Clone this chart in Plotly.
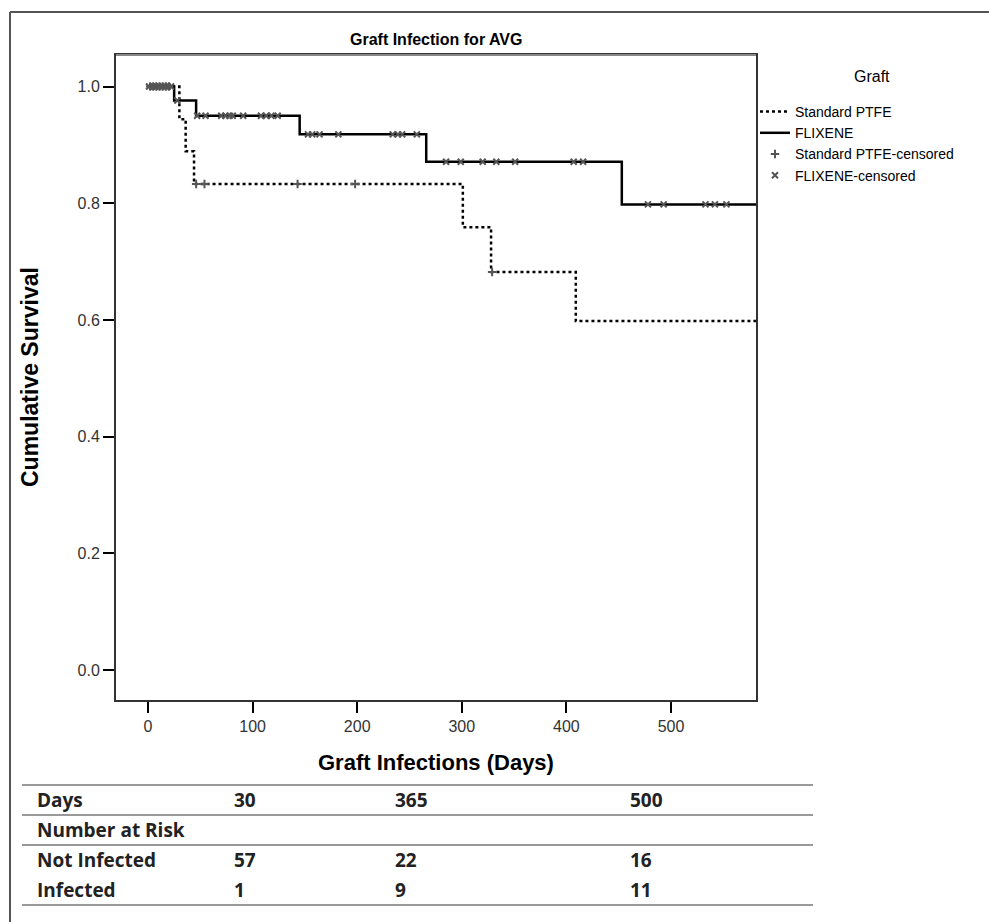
import plotly.graph_objects as go

# ---------------- data ----------------
ptfe_time = [0, 30, 36, 44, 301, 328, 409, 600]
ptfe_surv = [1.0, 0.944, 0.889, 0.833, 0.759, 0.682, 0.598, 0.598]
ptfe_censored = [2, 5, 8, 11, 14, 17, 20, 46, 54, 143, 198, 329]

flix_time = [0, 25, 46, 145, 266, 453, 600]
flix_surv = [1.0, 0.976, 0.950, 0.918, 0.871, 0.798, 0.798]
flix_censored = [1, 4, 7, 10, 13, 16, 19, 22, 28, 47, 55, 70, 74, 78, 81, 91,
                 108, 113, 118, 124, 153, 157, 164, 182, 234, 239, 243, 257,
                 285, 299, 320, 333, 351, 407, 416, 478, 493, 533, 542, 553]

x_ticks = [0, 100, 200, 300, 400, 500]
y_ticks = [0.0, 0.2, 0.4, 0.6, 0.8, 1.0]

table_days = [30, 365, 500]
table_not_infected = [57, 22, 16]
table_infected = [1, 9, 11]
table_labels = ["Days", "Number at Risk", "Not Infected", "Infected"]


def step_value(times, survs, t):
    v = survs[0]
    for ti, si in zip(times, survs):
        if ti <= t:
            v = si
    return v


ptfe_cens_y = [step_value(ptfe_time, ptfe_surv, t) for t in ptfe_censored]
flix_cens_y = [step_value(flix_time, flix_surv, t) for t in flix_censored]

# ---------------- geometry helpers ----------------
W, H = 989, 922
L, R, T, B = 116, 756, 55, 700


def px(x):
    return (x - L) / (R - L)


def py(y):
    return (B - y) / (B - T)


FONT = "Arial, Liberation Sans, sans-serif"
TFONT = "Open Sans, Lato, sans-serif"

fig = go.Figure()

fig.add_trace(go.Scatter(
    x=ptfe_time, y=ptfe_surv, mode="lines", line_shape="hv",
    line=dict(color="black", width=2.5, dash="3px,3px"),
    name="Standard PTFE", hoverinfo="skip"))
fig.add_trace(go.Scatter(
    x=flix_time, y=flix_surv, mode="lines", line_shape="hv",
    line=dict(color="black", width=2.5),
    name="FLIXENE", hoverinfo="skip"))
fig.add_trace(go.Scatter(
    x=ptfe_censored, y=ptfe_cens_y, mode="markers",
    marker=dict(symbol="cross-thin", size=6, line=dict(color="#555", width=2)),
    name="Standard PTFE-censored"))
fig.add_trace(go.Scatter(
    x=flix_censored, y=flix_cens_y, mode="markers",
    marker=dict(symbol="x-thin", size=6, line=dict(color="#555", width=2)),
    name="FLIXENE-censored"))

fig.update_xaxes(
    range=[-30.6, 581.3], tickvals=x_ticks, ticks="outside", ticklen=11,
    tickwidth=1.5, tickcolor="black", showgrid=False, zeroline=False,
    showline=True, linecolor="#333", linewidth=2, mirror=True,
    tickfont=dict(family=FONT, size=16, color="#333"))
fig.update_yaxes(
    range=[-0.0514, 1.054], tickvals=y_ticks, tickformat=".1f",
    ticks="outside", ticklen=11, tickwidth=1.5, tickcolor="black",
    showgrid=False, zeroline=False, showline=True, linecolor="#333",
    linewidth=2, mirror=True,
    tickfont=dict(family=FONT, size=16, color="#333"))

annotations = [
    dict(text="<b>Graft Infection for AVG</b>", x=px(436), y=py(39),
         xanchor="center", yanchor="middle",
         xref="paper", yref="paper", showarrow=False,
         font=dict(family=FONT, size=16, color="black")),
    dict(text="<b>Cumulative Survival</b>", x=px(30), y=py(377), textangle=-90,
         xanchor="center", yanchor="middle",
         xref="paper", yref="paper", showarrow=False,
         font=dict(family=FONT, size=23, color="black")),
    dict(text="<b>Graft Infections (Days)</b>", x=px(436), y=py(762),
         xanchor="center", yanchor="middle",
         xref="paper", yref="paper", showarrow=False,
         font=dict(family=FONT, size=22, color="black")),
    dict(text="Graft", x=px(872), y=py(77),
         xanchor="center", yanchor="middle",
         xref="paper", yref="paper", showarrow=False,
         font=dict(family=FONT, size=16, color="black")),
]

# table
row_y = [800, 830, 860, 890]
col_x = [232, 393, 628]
for lab, ry in zip(table_labels, row_y):
    annotations.append(dict(text="<b>%s</b>" % lab, x=px(35), y=py(ry),
                            xref="paper", yref="paper", showarrow=False,
                            xanchor="left", yanchor="middle",
                            font=dict(family=TFONT, size=19, color="#222")))
for vals, ry in [(table_days, row_y[0]), (table_not_infected, row_y[2]),
                 (table_infected, row_y[3])]:
    for v, cx in zip(vals, col_x):
        annotations.append(dict(text="<b>%s</b>" % v, x=px(cx), y=py(ry),
                                xref="paper", yref="paper", showarrow=False,
                                xanchor="left", yanchor="middle",
                                font=dict(family=TFONT, size=19, color="#222")))

shapes = []
for ly in [785, 815, 845, 905]:
    shapes.append(dict(type="line", xref="paper", yref="paper",
                       x0=px(22), x1=px(813), y0=py(ly), y1=py(ly),
                       line=dict(color="#999", width=2)))
# outer frame (top & left)
shapes.append(dict(type="line", xref="paper", yref="paper",
                   x0=px(10), x1=px(989), y0=py(12), y1=py(12),
                   line=dict(color="#555", width=2)))
shapes.append(dict(type="line", xref="paper", yref="paper",
                   x0=px(10), x1=px(10), y0=py(12), y1=py(922),
                   line=dict(color="#555", width=2)))
# lighter top border of the plot box
shapes.append(dict(type="line", xref="paper", yref="paper",
                   x0=0, x1=1, y0=1, y1=1,
                   line=dict(color="#888", width=2)))

fig.update_layout(
    width=W, height=H,
    margin=dict(l=L, r=W - R, t=T, b=H - B, autoexpand=False),
    plot_bgcolor="white", paper_bgcolor="white",
    font=dict(family=FONT, color="black"),
    showlegend=True,
    legend=dict(x=px(755), y=py(96), xanchor="left", yanchor="top",
                bgcolor="rgba(0,0,0,0)", traceorder="normal",
                font=dict(family=FONT, size=14, color="black"),
                itemwidth=30, tracegroupgap=0),
    annotations=annotations, shapes=shapes,
)

fig.write_html("out.html", config={"displayModeBar": False},
               post_script="document.body.style.margin='0px';")
